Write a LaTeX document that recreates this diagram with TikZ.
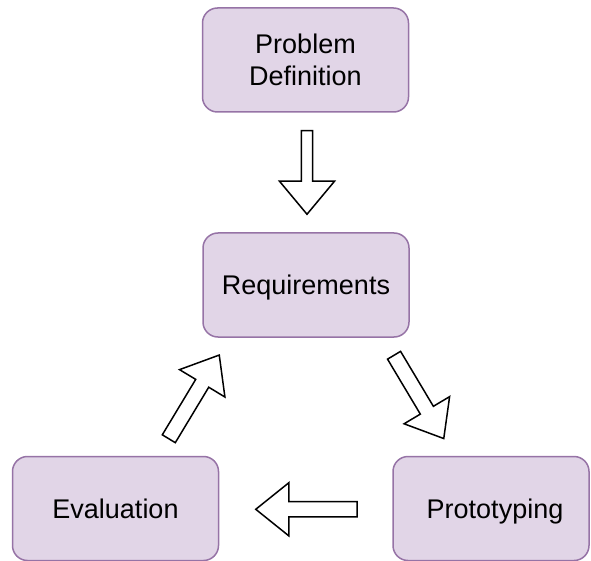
\documentclass[tikz,border=0pt]{standalone}
\usepackage{fontspec}
\setmainfont{Liberation Sans}
\usetikzlibrary{calc}

\definecolor{stagefill}{HTML}{E1D5E7}
\definecolor{stageline}{HTML}{9673A6}

\tikzset{
  stagebox/.style={draw=stageline, fill=stagefill, line width=1.5pt,
    rounded corners=15pt, minimum width=206pt, minimum height=104pt,
    inner sep=0pt, align=center, font=\fontsize{27}{32}\selectfont},
  % one-line labels: centre on the capitals, ignoring descenders
  oneline/.style={text height=19.5pt, text depth=0pt},
  % hollow block arrow: shaft half width, head half width, head length
  ba shaft/.store in=\bashaft, ba shaft=7.6pt,
  ba head/.store in=\bahead, ba head=26.5pt,
  ba len/.store in=\balen, ba len=33pt,
  blockarrow/.style={draw=black, fill=white, line width=1.5pt,
    line join=miter, miter limit=20,
    to path={
      ($(\tikztostart)!\bashaft!90:(\tikztotarget)$)
      -- ($(\tikztotarget)!\balen!(\tikztostart)!\bashaft!-90:(\tikztostart)$)
      -- ($(\tikztotarget)!\balen!(\tikztostart)!\bahead!-90:(\tikztostart)$)
      -- (\tikztotarget)
      -- ($(\tikztotarget)!\balen!(\tikztostart)!\bahead!90:(\tikztostart)$)
      -- ($(\tikztotarget)!\balen!(\tikztostart)!\bashaft!90:(\tikztostart)$)
      -- ($(\tikztostart)!\bashaft!-90:(\tikztotarget)$)
      -- cycle
    }},
}

\begin{document}
\begin{tikzpicture}[x=1pt, y=-1pt]
  \useasboundingbox (0,0) rectangle (591,561);
  \clip (0,0) rectangle (591,561);

  % stages
  \node[stagebox] (pd)    at (305.5, 60)   {Problem\\Definition};
  \node[stagebox, oneline] (req)   at (306, 285)     {Requirements};
  \node[stagebox, oneline] (eval)  at (115.5, 508.5) {Evaluation};
  \node[stagebox, oneline, minimum width=196pt] (proto) at (491, 508.5)
    {\hspace*{8pt}Prototyping};

  % flow between stages
  \draw[blockarrow, ba shaft=5.6pt, ba head=27.5pt]
    ($(pd.south)+(1.5,18)$) to ($(req.north)+(1,-18)$);
  \draw[blockarrow]
    ($(req.south east)+(-15.7,17.5)$) to ($(proto.north west)+(51.5,-17.2)$);
  \draw[blockarrow]
    ($(proto.west)+(-35.2,0.8)$) to ($(eval.east)+(36.5,0.8)$);
  \draw[blockarrow]
    ($(eval.north)+(53.3,-17)$) to ($(req.south west)+(17,17.3)$);
\end{tikzpicture}
\end{document}
